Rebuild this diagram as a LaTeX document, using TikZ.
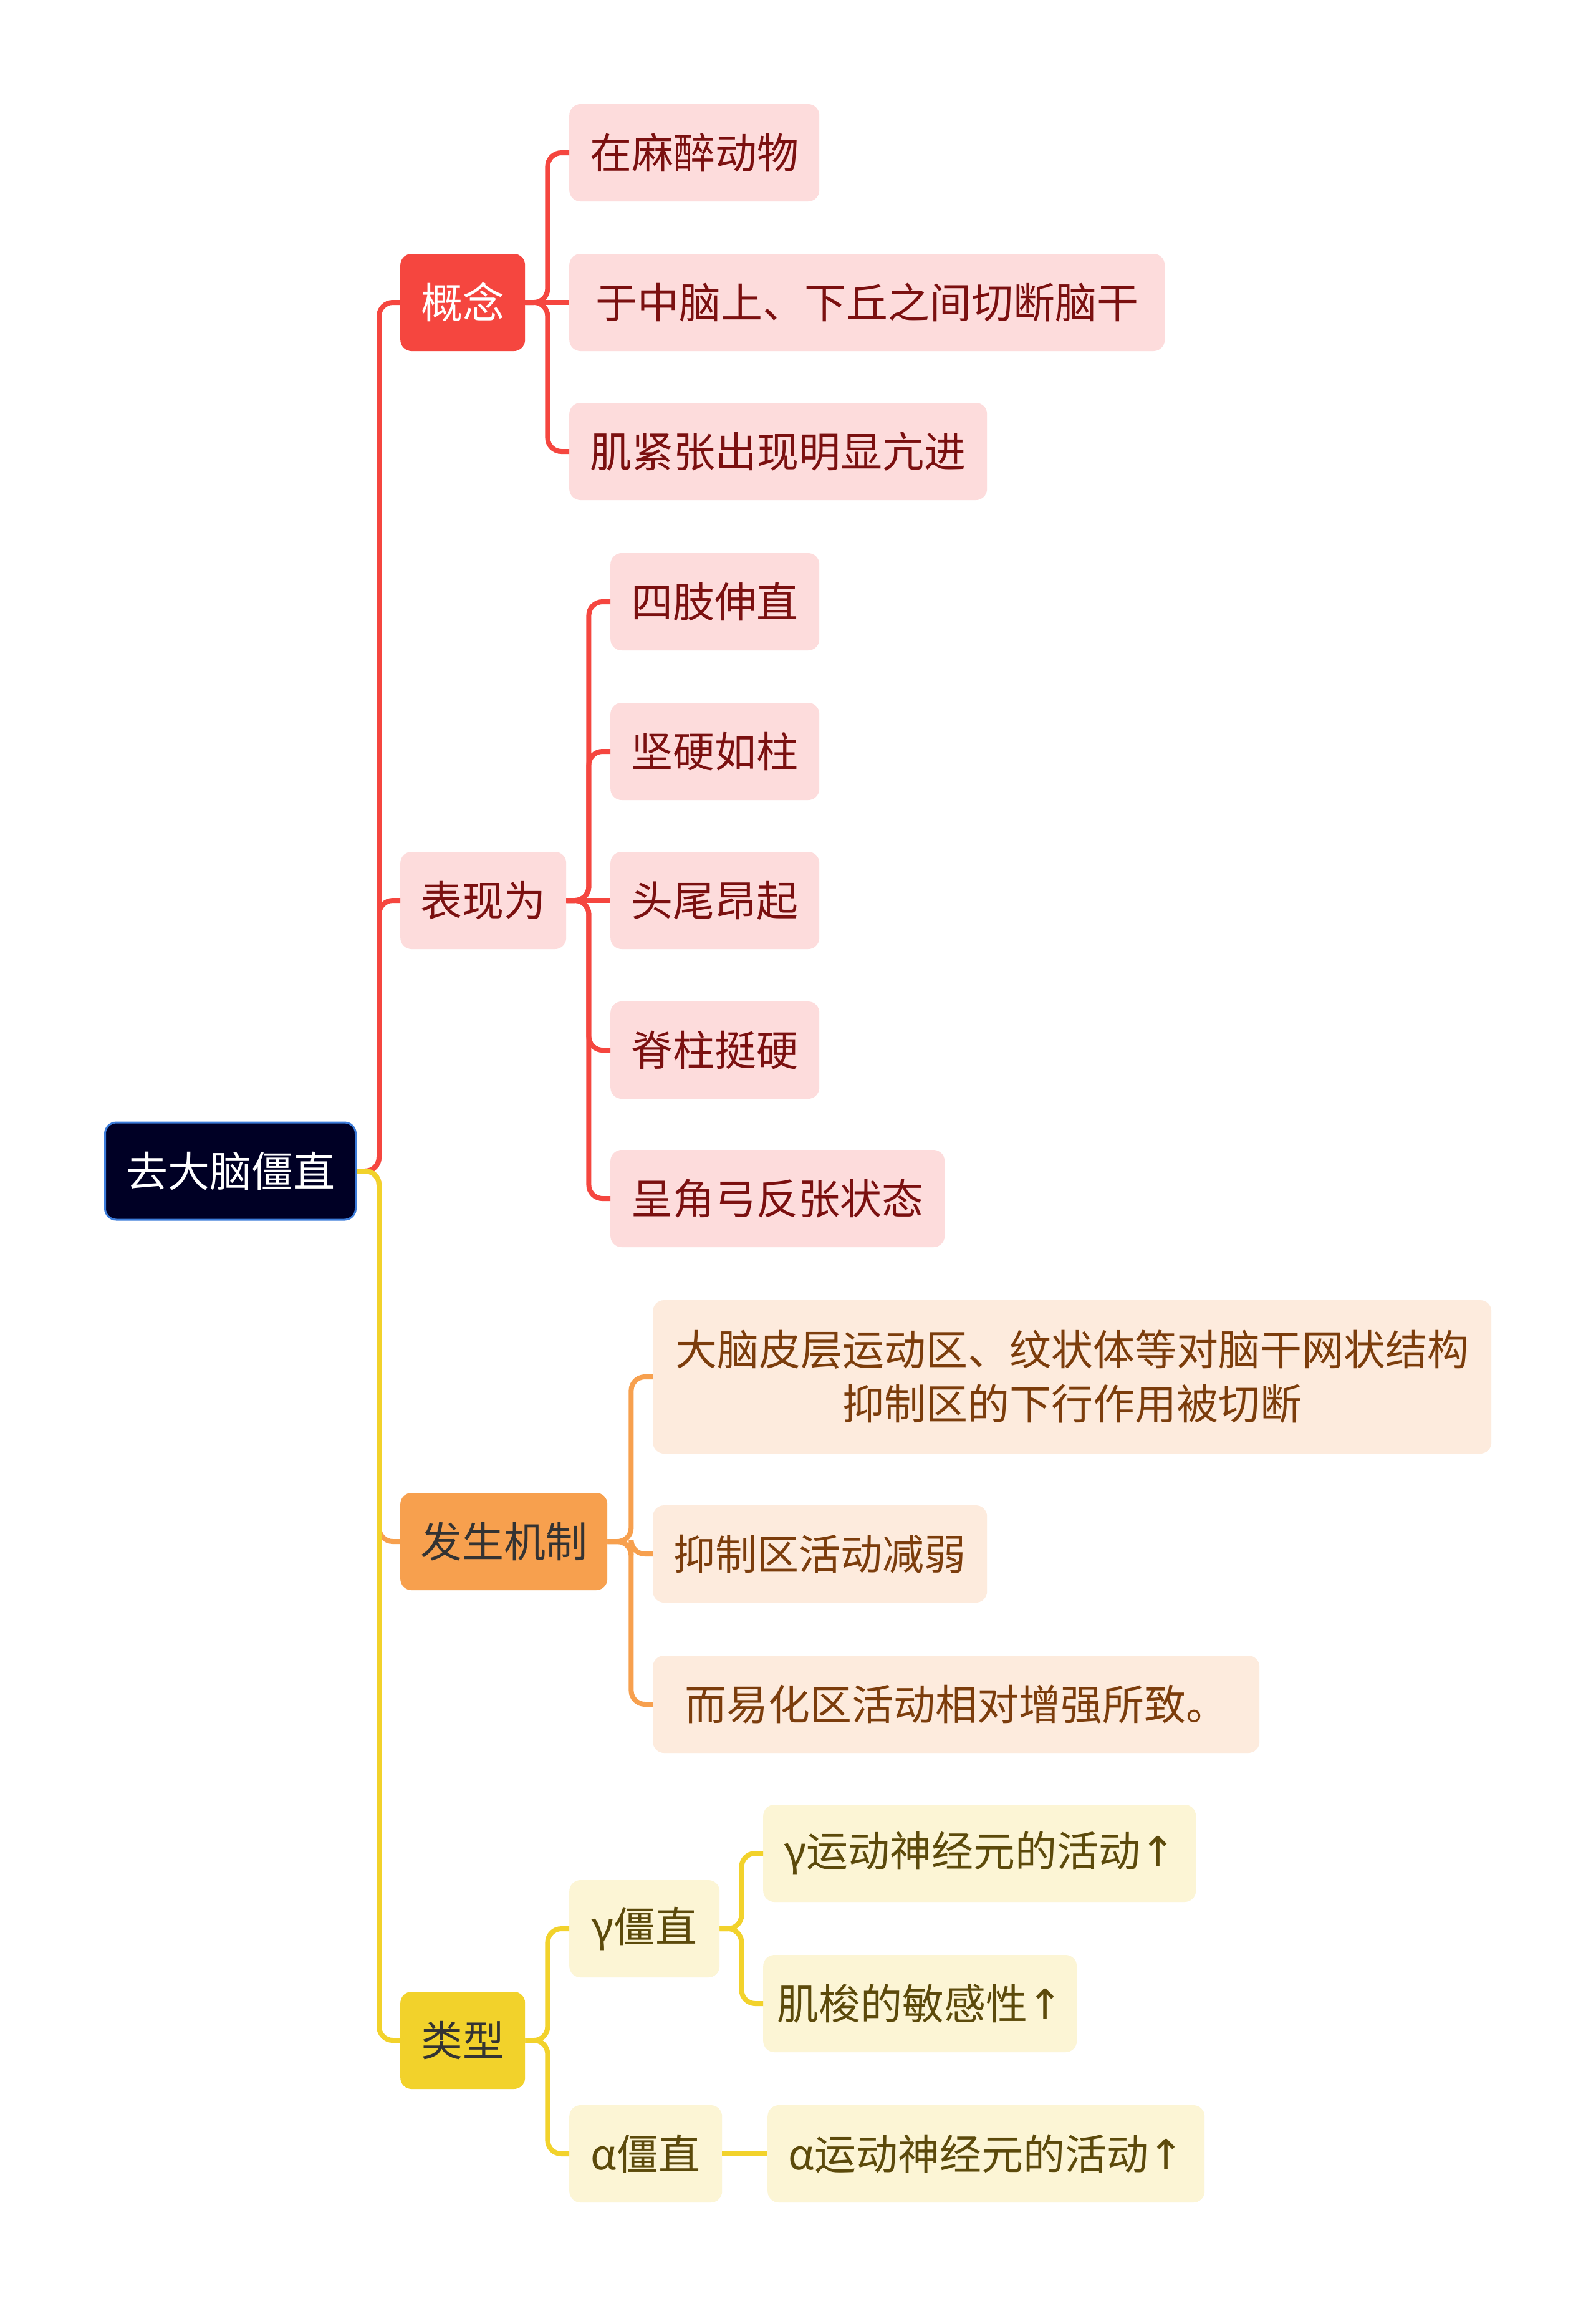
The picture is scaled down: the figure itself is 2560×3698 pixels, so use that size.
\documentclass[tikz,border=0pt]{standalone}
\usepackage{fontspec}
\setmainfont{Noto Sans CJK SC}
\newfontfamily\arrowfont{DejaVu Sans}
\newcommand{\uparr}{{\arrowfont ↑}}

\definecolor{rootfill}{HTML}{000025}
\definecolor{rootline}{HTML}{3C7CDA}
\definecolor{redmain}{HTML}{F5463F}
\definecolor{redsoft}{HTML}{FDDCDC}
\definecolor{redtext}{HTML}{7B1010}
\definecolor{orgmain}{HTML}{F7A04E}
\definecolor{orgsoft}{HTML}{FDEBDD}
\definecolor{orgtext}{HTML}{7C3D0C}
\definecolor{ylwmain}{HTML}{F2D22B}
\definecolor{ylwsoft}{HTML}{FCF5D5}
\definecolor{ylwtext}{HTML}{5C4A0B}
\definecolor{darktext}{HTML}{333333}

\begin{document}
\begin{tikzpicture}[
        x=1bp, y=-1bp,
        mapbox/.style={rounded corners=18bp, minimum height=156bp, inner xsep=20bp,
          inner ysep=0bp, anchor=west, align=center,
          font=\fontsize{67bp}{87bp}\selectfont},
        rootbox/.style={mapbox, fill=rootfill, draw=rootline, line width=3bp, text=white},
        redhead/.style={mapbox, fill=redmain, text=white},
        redleaf/.style={mapbox, fill=redsoft, text=redtext},
        orghead/.style={mapbox, fill=orgmain, text=darktext},
        orgleaf/.style={mapbox, fill=orgsoft, text=orgtext},
        ylwhead/.style={mapbox, fill=ylwmain, text=darktext},
        ylwleaf/.style={mapbox, fill=ylwsoft, text=ylwtext},
        wire/.style={line width=8bp, rounded corners=22bp, draw=#1}
      ]
      \fill[white] (0,0) rectangle (2560,3698);
      \useasboundingbox (0,0) rectangle (2560,3698);

      % root and main branches
      \node[rootbox, minimum width=402bp] (root) at (167,1878) {去大脑僵直};
      \node[redhead, minimum width=200bp] (gn) at (642,485) {概念};
      \node[redleaf, minimum width=266bp] (bx) at (642,1444) {表现为};
      \node[orghead, minimum width=332bp] (jz) at (642,2472) {发生机制};
      \node[ylwhead, minimum width=200bp] (lx) at (642,3272) {类型};

      % 概念
      \node[redleaf, minimum width=401bp] (mz) at (913,245) {在麻醉动物};
      \node[redleaf, minimum width=955bp] (qd) at (913,485) {于中脑上、下丘之间切断脑干};
      \node[redleaf, minimum width=670bp] (jj) at (913,724) {肌紧张出现明显亢进};

      % 表现为
      \node[redleaf, minimum width=335bp] (sz) at (979,965) {四肢伸直};
      \node[redleaf, minimum width=335bp] (jy) at (979,1205) {坚硬如柱};
      \node[redleaf, minimum width=335bp] (tw) at (979,1444) {头尾昂起};
      \node[redleaf, minimum width=335bp] (jt) at (979,1684) {脊柱挺硬};
      \node[redleaf, minimum width=536bp] (jg) at (979,1922) {呈角弓反张状态};

      % 发生机制
      \node[orgleaf, minimum width=1345bp, minimum height=246bp] (dn) at (1047,2208)
        {大脑皮层运动区、纹状体等对脑干网状结构\\抑制区的下行作用被切断};
      \node[orgleaf, minimum width=536bp] (yz) at (1047,2492) {抑制区活动减弱};
      \node[orgleaf, minimum width=973bp] (yh) at (1047,2733) {而易化区活动相对增强所致。};

      % 类型
      \node[ylwleaf, minimum width=241bp] (gj) at (913,3093) {γ僵直};
      \node[ylwleaf, minimum width=245bp] (aj) at (913,3454) {α僵直};
      \node[ylwleaf, minimum width=694bp] (gy) at (1224,2972) {γ运动神经元的活动\uparr};
      \node[ylwleaf, minimum width=503bp] (js) at (1224,3213) {肌梭的敏感性\uparr};
      \node[ylwleaf, minimum width=701bp] (ay) at (1231,3454) {α运动神经元的活动\uparr};

      % connectors from the root
      \draw[wire=redmain] (root.east) -- ++(36,0) |- (gn.west);
      \draw[wire=redmain] (root.east) -- ++(36,0) |- (bx.west);
      \draw[wire=orgmain] (root.east) -- ++(36,0) |- (jz.west);
      \draw[wire=ylwmain] (root.east) -- ++(36,0) |- (lx.west);

      \draw[wire=redmain] (gn.east) -- ++(36,0) |- (mz.west);
      \draw[wire=redmain] (gn.east) -- (qd.west);
      \draw[wire=redmain] (gn.east) -- ++(36,0) |- (jj.west);

      \draw[wire=redmain] (bx.east) -- ++(36,0) |- (sz.west);
      \draw[wire=redmain] (bx.east) -- ++(36,0) |- (jy.west);
      \draw[wire=redmain] (bx.east) -- (tw.west);
      \draw[wire=redmain] (bx.east) -- ++(36,0) |- (jt.west);
      \draw[wire=redmain] (bx.east) -- ++(36,0) |- (jg.west);

      \draw[wire=orgmain] (jz.east) -- ++(38,0) |- (dn.west);
      \draw[wire=orgmain] (jz.east) -- ++(38,0) |- (yz.west);
      \draw[wire=orgmain] (jz.east) -- ++(38,0) |- (yh.west);

      \draw[wire=ylwmain] (lx.east) -- ++(36,0) |- (gj.west);
      \draw[wire=ylwmain] (lx.east) -- ++(36,0) |- (aj.west);
      \draw[wire=ylwmain] (gj.east) -- ++(35,0) |- (gy.west);
      \draw[wire=ylwmain] (gj.east) -- ++(35,0) |- (js.west);
      \draw[wire=ylwmain] (aj.east) -- (ay.west);

    \end{tikzpicture}
\end{document}
